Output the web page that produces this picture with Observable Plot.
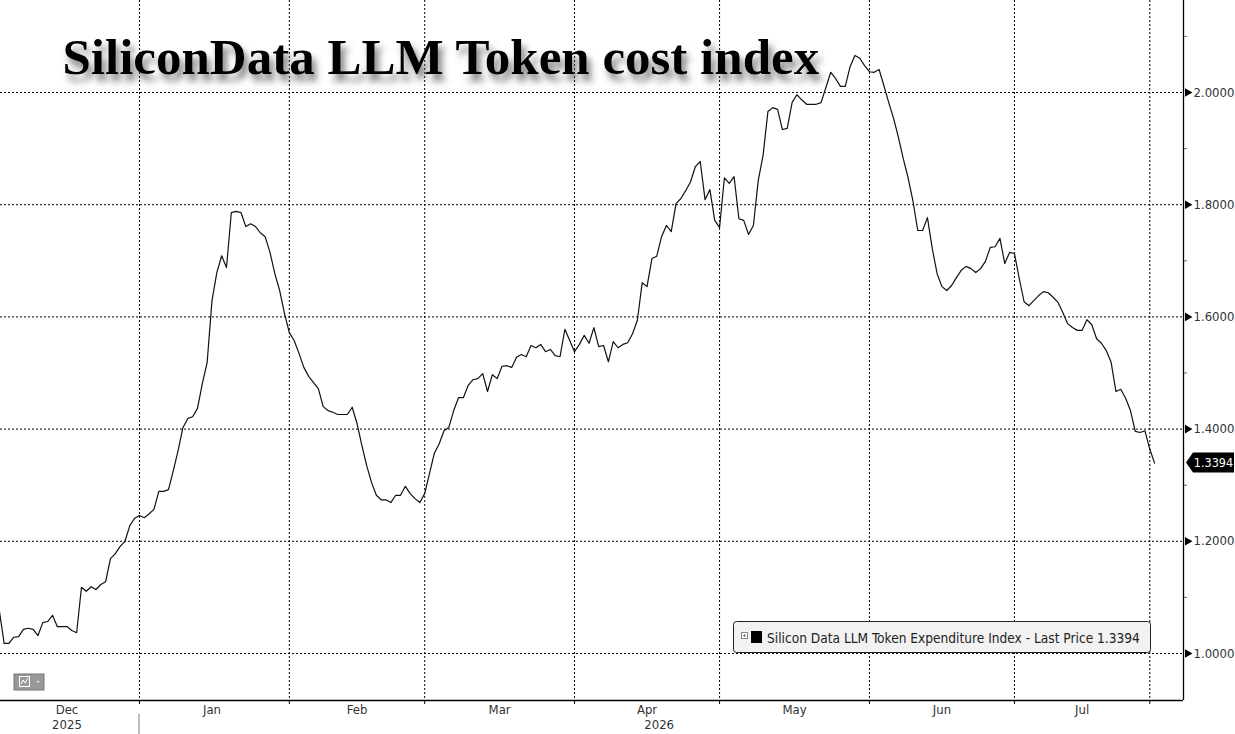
<!DOCTYPE html>
<html>
<head>
<meta charset="utf-8">
<script src="https://cdn.jsdelivr.net/npm/d3@7"></script>
<script src="https://cdn.jsdelivr.net/npm/@observablehq/plot@0.6"></script>
<style>
  html, body { margin: 0; padding: 0; background: #fff; }
  #chart { width: 1235px; height: 734px; }
</style>
</head>
<body>
<div id="chart"></div>
<script>
// ---- data ----
const titleText = "SiliconData LLM Token cost index";
const seriesName = "Silicon Data LLM Token Expenditure Index - Last Price 1.3394";
const startDate = "2025-12-03"; // first daily observation
const values = [
  // Dec 3 – Dec 31, 2025
  1.077, 1.018, 1.018, 1.029, 1.030, 1.043, 1.045, 1.043, 1.032, 1.055,
  1.057, 1.068, 1.048, 1.048, 1.048, 1.041, 1.037, 1.118, 1.111, 1.119,
  1.114, 1.123, 1.128, 1.169, 1.178, 1.191, 1.200, 1.228, 1.241,
  // Jan 2026
  1.246, 1.242, 1.249, 1.257, 1.289, 1.289, 1.292, 1.326, 1.362, 1.403,
  1.419, 1.422, 1.437, 1.481, 1.519, 1.629, 1.679, 1.709, 1.688, 1.786,
  1.788, 1.786, 1.761, 1.766, 1.761, 1.750, 1.743, 1.715, 1.677, 1.647, 1.606,
  // Feb
  1.572, 1.558, 1.535, 1.510, 1.494, 1.483, 1.472, 1.440, 1.433, 1.430,
  1.426, 1.426, 1.426, 1.439, 1.410, 1.371, 1.335, 1.305, 1.282, 1.274,
  1.274, 1.269, 1.282, 1.282, 1.298, 1.285, 1.276, 1.269,
  // Mar
  1.285, 1.321, 1.357, 1.374, 1.397, 1.403, 1.433, 1.456, 1.456, 1.478,
  1.488, 1.490, 1.499, 1.467, 1.497, 1.490, 1.512, 1.513, 1.510, 1.528,
  1.533, 1.529, 1.549, 1.545, 1.551, 1.538, 1.542, 1.531, 1.529, 1.578, 1.558,
  // Apr
  1.538, 1.551, 1.567, 1.553, 1.581, 1.547, 1.549, 1.520, 1.556, 1.545,
  1.551, 1.554, 1.570, 1.594, 1.661, 1.654, 1.704, 1.708, 1.743, 1.763,
  1.752, 1.802, 1.811, 1.825, 1.841, 1.868, 1.877, 1.809, 1.827, 1.772,
  // May
  1.759, 1.848, 1.838, 1.850, 1.775, 1.772, 1.747, 1.763, 1.843, 1.888,
  1.966, 1.973, 1.970, 1.934, 1.936, 1.982, 1.996, 1.987, 1.979, 1.979,
  1.979, 1.982, 2.009, 2.036, 2.025, 2.011, 2.011, 2.046, 2.066, 2.061, 2.048,
  // Jun
  2.037, 2.036, 2.041, 2.012, 1.982, 1.954, 1.920, 1.882, 1.848, 1.807,
  1.754, 1.754, 1.777, 1.722, 1.677, 1.654, 1.647, 1.656, 1.670, 1.683,
  1.690, 1.686, 1.679, 1.686, 1.699, 1.724, 1.725, 1.740, 1.695, 1.715,
  // Jul
  1.713, 1.668, 1.627, 1.620, 1.629, 1.638, 1.645, 1.643, 1.635, 1.626,
  1.608, 1.588, 1.581, 1.576, 1.576, 1.595, 1.586, 1.561, 1.553, 1.540,
  1.519, 1.467, 1.471, 1.455, 1.433, 1.396, 1.394, 1.397, 1.364, 1.3394
];
const lastPrice = 1.3394;
const yMajorTicks = [1.0, 1.2, 1.4, 1.6, 1.8, 2.0];
const yMinorTicks = [1.1, 1.3, 1.5, 1.7, 1.9, 2.1];
const xGridDates = ["2026-01-01", "2026-02-01", "2026-03-01", "2026-04-01", "2026-05-01", "2026-06-01", "2026-07-01", "2026-07-29"];
const monthLabels = ["Dec", "Jan", "Feb", "Mar", "Apr", "May", "Jun", "Jul"];
const monthLabelDates = ["2025-12-17", "2026-01-16", "2026-02-15", "2026-03-16T12:00", "2026-04-16", "2026-05-16T12:00", "2026-06-16", "2026-07-15"];
const yearLabels = ["2025", "2026"];
const yearLabelDates = ["2025-12-17", "2026-04-18T12:00"];
const xDomain = ["2025-12-03T06:00", "2026-08-04T23:20"];
const yDomain = [0.9162, 2.164];

// ---- build ----
const parse = s => new Date(s.length <= 10 ? s + "T00:00:00Z" : s + ":00Z");
const start = parse(startDate);
const data = values.map((v, i) => ({date: d3.utcDay.offset(start, i), value: v}));
const gridDates = xGridDates.map(parse);
const months = monthLabels.map((m, i) => ({date: parse(monthLabelDates[i]), label: m}));
const years = yearLabels.map((y, i) => ({date: parse(yearLabelDates[i]), label: y}));
const font = "'DejaVu Sans Condensed', 'Liberation Sans Narrow', 'DejaVu Sans', sans-serif";

const plot = Plot.plot({
  width: 1235,
  height: 734,
  marginLeft: 0,
  marginTop: 0,
  marginRight: 52,
  marginBottom: 34,
  style: {background: "#fff", fontFamily: font},
  x: {type: "utc", domain: xDomain.map(parse), axis: null},
  y: {domain: yDomain, axis: null},
  marks: [
    Plot.ruleY(yMajorTicks, {stroke: "#000", strokeWidth: 1, strokeDasharray: "2,2"}),
    Plot.ruleX(gridDates, {stroke: "#000", strokeWidth: 1, strokeDasharray: "2,2"}),
    Plot.line(data, {x: "date", y: "value", stroke: "#111", strokeWidth: 1.2}),
    Plot.axisX(gridDates, {tickSize: 4, tickFormat: () => "", stroke: "#000", label: null}),
    Plot.ruleY([yDomain[0]], {stroke: "#000", strokeWidth: 1.3}),
    Plot.ruleX([parse(xDomain[1])], {stroke: "#000", strokeWidth: 1.3}),
    Plot.axisY({anchor: "right", ticks: yMinorTicks, tickSize: 3, tickFormat: () => "", stroke: "#666", label: null}),
    Plot.axisY({anchor: "right", ticks: yMajorTicks, tickSize: 0, tickPadding: 10, tickFormat: d => d.toFixed(4), fontSize: 13, fill: "#333", label: null}),
    Plot.dot(yMajorTicks, {y: d => d, frameAnchor: "right", symbol: "triangle", rotate: 90, r: 3.2, fill: "#000", stroke: "none", dx: 4}),
    Plot.text(months, {x: "date", text: "label", frameAnchor: "bottom", dy: 13, fontSize: 13, fill: "#333"}),
    Plot.text(years, {x: "date", text: "label", frameAnchor: "bottom", dy: 28, fontSize: 13, fill: "#333"}),
    Plot.text([titleText], {frameAnchor: "top-left", dx: 62, dy: 37, textAnchor: "start", lineAnchor: "top", fontSize: 51, fontWeight: "bold", fontFamily: "'Liberation Serif', 'Times New Roman', serif", fill: "#000"})
  ]
});

document.getElementById("chart").appendChild(plot);

// ---- decorations positioned via the plot's scales ----
const svg = d3.select(plot);
const xS = plot.scale("x"), yS = plot.scale("y");
const xRight = xS.apply(parse(xDomain[1]));
const yBottom = yS.apply(yDomain[0]);

// drop shadow for the title
const defs = svg.insert("defs", ":first-child");
const f = defs.append("filter").attr("id", "titleShadow").attr("x", "-5%").attr("y", "-30%").attr("width", "115%").attr("height", "170%");
f.append("feDropShadow").attr("dx", 4).attr("dy", 7).attr("stdDeviation", 3.5).attr("flood-color", "#555").attr("flood-opacity", 0.75);
svg.selectAll("text").filter(function() { return this.textContent === titleText; })
  .each(function() { d3.select(this.parentNode).attr("filter", "url(#titleShadow)"); });

// year separator
const xJan = xS.apply(gridDates[0]);
svg.append("line").attr("x1", xJan).attr("x2", xJan).attr("y1", yBottom + 14).attr("y2", 734)
  .attr("stroke", "#777").attr("stroke-width", 1);

// last price tag
const yLast = yS.apply(lastPrice);
const tag = svg.append("g");
tag.append("path")
  .attr("d", `M${xRight + 3},${yLast} L${xRight + 10},${yLast - 10} L${xRight + 51},${yLast - 10} L${xRight + 51},${yLast + 10} L${xRight + 10},${yLast + 10} Z`)
  .attr("fill", "#000");
tag.append("text").attr("x", xRight + 30.5).attr("y", yLast + 4.5).attr("text-anchor", "middle")
  .attr("fill", "#fff").attr("font-size", 12.5).attr("font-family", font).text(lastPrice.toFixed(4));

// legend box
const lg = svg.append("g");
lg.append("rect").attr("x", 733.5).attr("y", 621.5).attr("width", 417).attr("height", 31).attr("rx", 3)
  .attr("fill", "#f2f2f2").attr("stroke", "#222").attr("stroke-width", 1);
lg.append("rect").attr("x", 741.5).attr("y", 632.5).attr("width", 6).attr("height", 6).attr("fill", "#fff").attr("stroke", "#888");
lg.append("line").attr("x1", 743).attr("x2", 746).attr("y1", 635.5).attr("y2", 635.5).attr("stroke", "#888");
lg.append("line").attr("x1", 744.5).attr("x2", 744.5).attr("y1", 634).attr("y2", 637).attr("stroke", "#888");
lg.append("rect").attr("x", 751).attr("y", 631).attr("width", 11).attr("height", 12).attr("fill", "#000");
lg.append("text").attr("x", 767).attr("y", 642.5).attr("font-size", 13.6).attr("fill", "#222")
  .attr("text-anchor", "start").attr("font-family", font).text(seriesName);

// small chart-type icon bottom left
const ic = svg.append("g");
ic.append("rect").attr("x", 14).attr("y", 674).attr("width", 30).attr("height", 16).attr("fill", "#999").attr("stroke", "#777");
ic.append("rect").attr("x", 19.5).attr("y", 676.5).attr("width", 10).attr("height", 10).attr("fill", "none").attr("stroke", "#fff");
ic.append("path").attr("d", "M21,684 L23,680 L25,683 L28,678").attr("fill", "none").attr("stroke", "#fff");
ic.append("path").attr("d", "M36,681 L40,681 L38,683 Z").attr("fill", "#ddd");
</script>
</body>
</html>
